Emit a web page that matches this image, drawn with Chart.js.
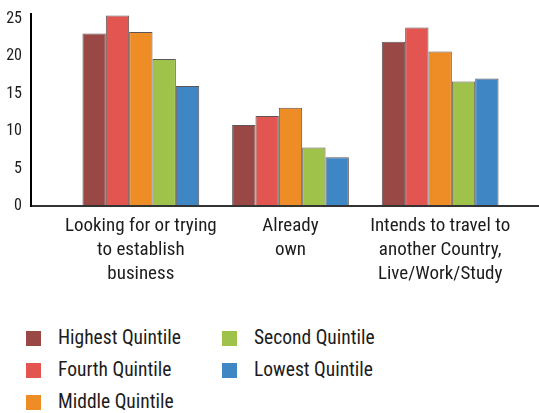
<!DOCTYPE html>
<html>
<head>
<meta charset="utf-8">
<script src="https://cdn.jsdelivr.net/npm/chart.js@4"></script>
<style>
  body { margin: 0; background: #fff; width: 539px; height: 413px; overflow: hidden; }
  #wrap { position: relative; width: 539px; height: 300px; }
  #legend {
    position: absolute; left: 0; top: 322px; width: 539px;
    font-family: "Roboto Condensed", sans-serif;
    font-size: 19.5px; color: #1c1c1c;
  }
  .item { position: absolute; height: 22px; line-height: 22px; white-space: nowrap; }
  .sw { position: absolute; top: 4px; width: 15px; height: 15px; }
  .lbl { position: absolute; left: 32px; top: 0; }
</style>
</head>
<body>
<div id="wrap"><canvas id="chart" width="539" height="300"></canvas></div>
<div id="legend"></div>
<script>
const categories = [
  ["Looking for or trying", "to establish", "business"],
  ["Already", "own"],
  ["Intends to travel to", "another Country,", "Live/Work/Study"],
];
const seriesNames = ["Highest Quintile", "Fourth Quintile", "Middle Quintile", "Second Quintile", "Lowest Quintile"];
const highest = [23.0, 10.8, 21.9];
const fourth = [25.4, 12.0, 23.8];
const middle = [23.2, 13.1, 20.6];
const second = [19.6, 7.8, 16.6];
const lowest = [16.0, 6.5, 17.0];
const colors = ["#9a4845", "#e35550", "#ee8c26", "#9fc24b", "#3f86c5"];
const yTicks = [0, 5, 10, 15, 20, 25];

const FONT = "'Roboto Condensed', sans-serif";
const values = [highest, fourth, middle, second, lowest];

// axis lines run past the category area, so draw them by hand
const axisLines = {
  id: "axisLines",
  afterDatasetsDraw(chart) {
    const ctx = chart.ctx;
    const y0 = chart.scales.y.getPixelForValue(0);
    const yTop = chart.scales.y.top + 2;
    ctx.save();
    ctx.lineWidth = 2;
    ctx.strokeStyle = "#333";
    ctx.beginPath();
    ctx.moveTo(31, y0);
    ctx.lineTo(539, y0);
    ctx.stroke();
    ctx.strokeStyle = "#000";
    ctx.beginPath();
    ctx.moveTo(31, yTop);
    ctx.lineTo(31, y0 + 1);
    ctx.stroke();
    ctx.restore();
  },
};

new Chart(document.getElementById("chart"), {
  type: "bar",
  data: {
    labels: categories,
    datasets: seriesNames.map((name, i) => ({
      label: name,
      data: values[i],
      backgroundColor: colors[i],
      borderColor: "rgba(40,30,30,0.75)",
      borderWidth: 1,
      categoryPercentage: 0.78,
      barPercentage: 1,
    })),
  },
  options: {
    responsive: false,
    animation: false,
    layout: { padding: { top: 11, right: 24, left: 0, bottom: 0 } },
    plugins: { legend: { display: false }, tooltip: { enabled: false } },
    scales: {
      x: {
        grid: { display: false, drawTicks: false },
        border: { display: false },
        ticks: { color: "#1c1c1c", font: { family: FONT, size: 19, lineHeight: 1.26 }, padding: 8, maxRotation: 0, autoSkip: false },
        afterFit(scale) { scale.height = 94; },
      },
      y: {
        min: 0,
        max: 26,
        grid: { display: false, drawTicks: false },
        border: { display: false },
        ticks: { color: "#1c1c1c", font: { family: FONT, size: 16 }, padding: 44 },
        afterBuildTicks(axis) { axis.ticks = yTicks.map((v) => ({ value: v })); },
        afterFit(scale) {
          scale.width = 66;
          scale.paddingTop = 0;
          scale.paddingBottom = 0;
        },
      },
    },
  },
  plugins: [axisLines],
});

// legend in two columns
const legendPos = [[26, 5], [26, 37], [26, 69], [222, 5], [222, 37]];
const legend = document.getElementById("legend");
seriesNames.forEach((name, i) => {
  const d = document.createElement("div");
  d.className = "item";
  d.style.left = legendPos[i][0] + "px";
  d.style.top = legendPos[i][1] + "px";
  d.innerHTML = '<span class="sw" style="background:' + colors[i] + '"></span><span class="lbl">' + name + "</span>";
  legend.appendChild(d);
});
</script>
</body>
</html>
